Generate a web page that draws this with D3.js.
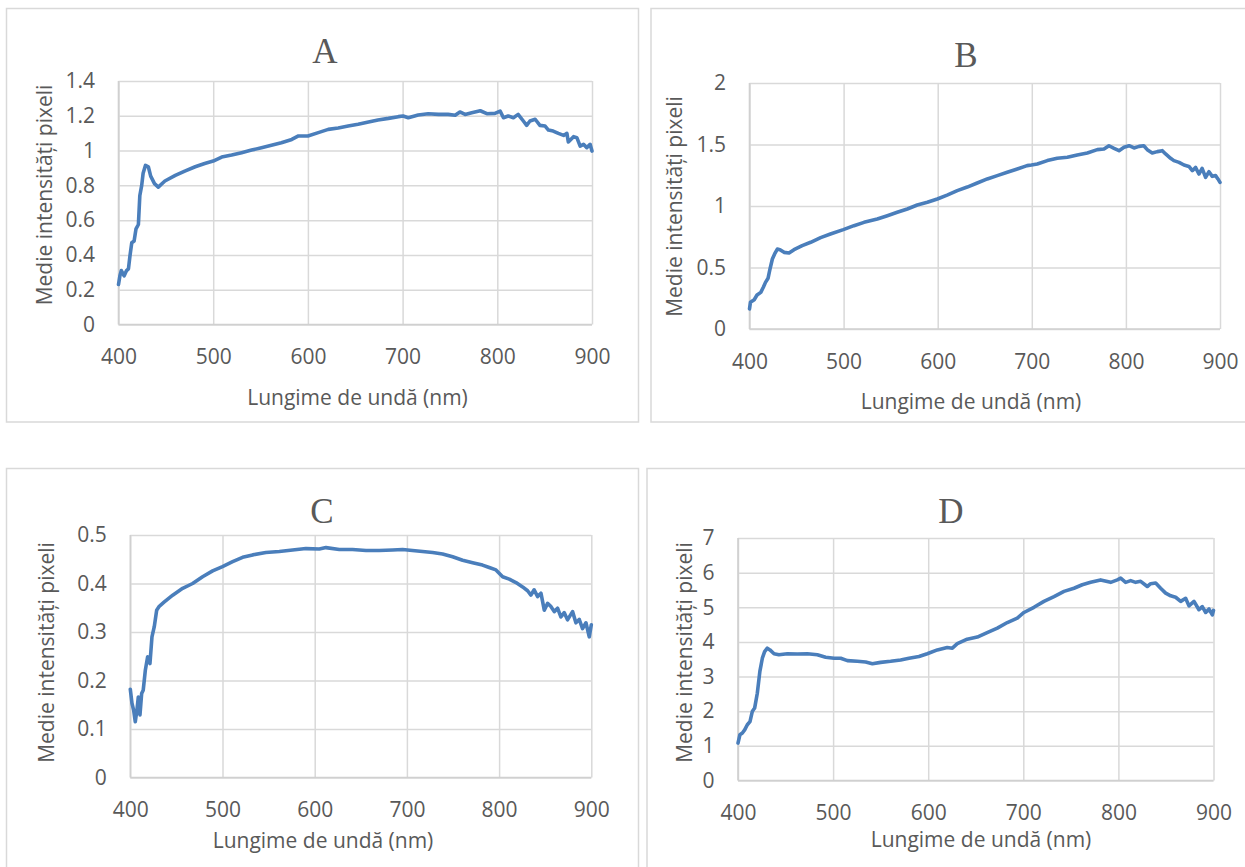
<!DOCTYPE html>
<html>
<head>
<meta charset="utf-8">
<script src="https://cdn.jsdelivr.net/npm/d3@7"></script>
<style>
  html, body { margin: 0; padding: 0; background: #ffffff; }
  svg { display: block; }
</style>
</head>
<body>
<svg id="chart" width="1245" height="867"></svg>
<script>
// ---------------- DATA ----------------
const panelTitles = ["A", "B", "C", "D"];
const xAxisTitle = "Lungime de undă (nm)";
const yAxisTitle = "Medie intensități pixeli";
const xTicks = [400, 500, 600, 700, 800, 900];
const yTicksA = [0, 0.2, 0.4, 0.6, 0.8, 1, 1.2, 1.4];
const yTicksB = [0, 0.5, 1, 1.5, 2];
const yTicksC = [0, 0.1, 0.2, 0.3, 0.4, 0.5];
const yTicksD = [0, 1, 2, 3, 4, 5, 6, 7];

// [wavelength (nm), mean pixel intensity]
const seriesA = [[400,0.23],[401.5,0.28],[403,0.31],[406,0.28],[408.5,0.31],[410.5,0.32],[412,0.39],[414,0.47],[416.5,0.48],[418.5,0.55],[421,0.575],[422.5,0.74],[424.5,0.80],[426,0.87],[428.5,0.915],[431.5,0.907],[434,0.853],[438,0.81],[442,0.79],[449,0.825],[460,0.857],[470,0.882],[481,0.907],[491,0.926],[500,0.94],[509,0.963],[519.5,0.974],[530,0.988],[540.5,1.003],[551,1.016],[561.5,1.03],[572,1.045],[583,1.064],[590,1.084],[600,1.084],[611,1.103],[621.5,1.122],[632,1.13],[642.5,1.141],[653,1.151],[664,1.164],[674,1.176],[685,1.185],[695.5,1.195],[700.5,1.199],[706,1.189],[716.5,1.204],[727,1.212],[738,1.208],[748,1.208],[755.5,1.203],[760.5,1.222],[766,1.208],[773,1.218],[782,1.229],[789,1.212],[797.5,1.214],[803,1.227],[806.5,1.189],[811.5,1.199],[817,1.189],[822,1.208],[827.5,1.17],[831,1.145],[834.5,1.17],[840,1.18],[845,1.145],[850.5,1.141],[854,1.118],[859,1.112],[864.5,1.099],[870,1.087],[873.5,1.099],[875,1.049],[880.5,1.08],[884,1.074],[887.5,1.026],[891,1.036],[894.5,1.017],[898,1.036],[900,0.997]];

const seriesB = [[400,0.163],[401,0.217],[405,0.238],[408,0.276],[412,0.298],[414.7,0.339],[417,0.379],[419.7,0.412],[421.8,0.488],[424.3,0.569],[426.7,0.61],[429.6,0.65],[432.4,0.645],[436.7,0.623],[442,0.618],[447.3,0.645],[456,0.678],[465,0.705],[475.6,0.743],[486,0.772],[499.7,0.808],[511,0.84],[521.7,0.867],[535.8,0.894],[546.5,0.921],[557,0.949],[567.7,0.976],[578.3,1.008],[589,1.03],[599.6,1.057],[610,1.089],[620.8,1.125],[631.4,1.154],[642,1.187],[652.7,1.22],[663.3,1.247],[673.9,1.274],[684.6,1.301],[695,1.328],[699.6,1.333],[705.8,1.341],[716.5,1.369],[727,1.388],[737.8,1.396],[748.3,1.415],[759,1.431],[769.6,1.458],[776.7,1.463],[782,1.49],[787.4,1.469],[792.7,1.45],[798,1.477],[803.4,1.49],[808.6,1.472],[814,1.485],[819,1.49],[822.7,1.458],[828,1.431],[833.4,1.442],[838.7,1.45],[842.2,1.423],[847.5,1.388],[851,1.369],[856.5,1.355],[861.7,1.333],[867,1.322],[870.6,1.287],[874,1.314],[877.6,1.26],[881,1.306],[884.7,1.233],[888.3,1.279],[891.8,1.241],[895.3,1.247],[897.8,1.22],[900,1.192]];

const seriesC = [[400,0.182],[401.8,0.153],[403.6,0.139],[405.4,0.115],[407.2,0.139],[408.7,0.166],[410.5,0.129],[412.3,0.173],[414,0.18],[416.3,0.221],[418.8,0.249],[421.3,0.235],[423.5,0.29],[426,0.311],[428.6,0.345],[431.4,0.353],[436.9,0.362],[446,0.376],[456.8,0.39],[467.6,0.40],[478.4,0.414],[489.3,0.426],[500,0.435],[511,0.445],[521.8,0.454],[532.7,0.459],[547,0.464],[561.6,0.466],[576,0.469],[590.5,0.472],[605,0.471],[612.2,0.474],[626.7,0.47],[641,0.47],[655.6,0.468],[670,0.468],[684.5,0.469],[695.3,0.47],[706,0.468],[717,0.466],[727.9,0.464],[738.7,0.461],[749.6,0.455],[760.4,0.448],[771.3,0.443],[782,0.438],[789.3,0.433],[796.6,0.428],[803.8,0.414],[811,0.409],[818.3,0.402],[825.5,0.393],[830.9,0.385],[834.5,0.376],[838,0.387],[841.8,0.373],[845.4,0.38],[849,0.345],[852.6,0.359],[856,0.353],[859.8,0.342],[863.4,0.349],[867,0.331],[870.6,0.34],[874.2,0.325],[879.7,0.342],[883.3,0.319],[886.9,0.326],[890.5,0.307],[894.2,0.319],[897.8,0.29],[900,0.315]];

const seriesD = [[400,1.08],[402,1.32],[404.6,1.37],[407,1.46],[409.8,1.61],[412.6,1.70],[415,1.99],[417.5,2.09],[420.3,2.52],[423,3.15],[425.6,3.53],[428,3.72],[430.8,3.82],[433.6,3.77],[437.9,3.66],[443,3.63],[451.9,3.66],[462.4,3.65],[472.9,3.66],[483.4,3.63],[492.2,3.56],[501,3.53],[508,3.53],[515,3.46],[525.5,3.44],[534.2,3.42],[541.3,3.37],[550,3.41],[560.5,3.44],[571,3.48],[579.8,3.53],[590.3,3.58],[599,3.66],[609.6,3.77],[620,3.84],[625.4,3.82],[630.6,3.95],[641,4.08],[651.6,4.14],[662,4.27],[672.7,4.40],[683.2,4.56],[693.7,4.69],[700.7,4.85],[711.2,5.00],[721.7,5.17],[732.3,5.31],[742.8,5.46],[753.3,5.55],[762,5.65],[770.8,5.72],[781.3,5.79],[791.9,5.72],[798.9,5.79],[802.4,5.84],[807.6,5.72],[812.9,5.77],[818.1,5.72],[823.4,5.75],[830.4,5.60],[833.9,5.68],[839.2,5.70],[844.4,5.55],[849.7,5.41],[855,5.33],[860.2,5.29],[865.5,5.17],[870.7,5.26],[874.2,5.04],[879.5,5.17],[884.7,4.93],[888.2,5.02],[891.8,4.85],[895.3,4.95],[898.8,4.78],[900,4.91]];

// ---------------- LAYOUT / STYLE ----------------
const FONT = "'Open Sans', sans-serif";
const TEXT_COLOR = "#595959";
const GRID_COLOR = "#d9d9d9";
const LINE_COLOR = "#4a7ebb";
const BORDER_COLOR = "#d9d9d9";

const panels = [
  { title: panelTitles[0], data: seriesA, yTicks: yTicksA,
    x0: 118.5, x1: 592, yTop: 81, yBottom: 324.5,
    border: [6.5, 8.5, 638.5, 422], titlePos: [325, 63],
    xTitlePos: [357.5, 405], yTitlePos: [52, 195] },
  { title: panelTitles[1], data: seriesB, yTicks: yTicksB,
    x0: 749.5, x1: 1220, yTop: 83, yBottom: 329,
    border: [651, 8.5, 1260, 422], titlePos: [966, 67],
    xTitlePos: [971, 409], yTitlePos: [682, 206.5] },
  { title: panelTitles[2], data: seriesC, yTicks: yTicksC,
    x0: 130.3, x1: 591.3, yTop: 535, yBottom: 777.5,
    border: [6.5, 468.5, 638.5, 880], titlePos: [322, 523],
    xTitlePos: [323, 848], yTitlePos: [54, 652.5] },
  { title: panelTitles[3], data: seriesD, yTicks: yTicksD,
    x0: 738, x1: 1213.5, yTop: 538, yBottom: 780.5,
    border: [647, 468.5, 1260, 880], titlePos: [951, 523],
    xTitlePos: [981, 847], yTitlePos: [692, 652.5] }
];

const svg = d3.select("#chart");
svg.append("rect").attr("width", 1245).attr("height", 867).attr("fill", "#ffffff");

panels.forEach(p => {
  const g = svg.append("g");

  // panel border
  g.append("rect")
    .attr("x", p.border[0]).attr("y", p.border[1])
    .attr("width", p.border[2] - p.border[0]).attr("height", p.border[3] - p.border[1])
    .attr("fill", "none").attr("stroke", BORDER_COLOR).attr("stroke-width", 1.5);

  const x = d3.scaleLinear().domain([400, 900]).range([p.x0, p.x1]);
  const yMax = p.yTicks[p.yTicks.length - 1];
  const y = d3.scaleLinear().domain([0, yMax]).range([p.yBottom, p.yTop]);

  // horizontal gridlines
  const gy = g.append("g").attr("transform", `translate(${p.x0},0)`)
    .call(d3.axisLeft(y).tickValues(p.yTicks).tickSize(-(p.x1 - p.x0)).tickFormat(""));
  gy.select(".domain").remove();
  gy.selectAll(".tick line").attr("stroke", GRID_COLOR).attr("stroke-width", 1.5);

  // vertical gridlines
  const gx = g.append("g").attr("transform", `translate(0,${p.yBottom})`)
    .call(d3.axisBottom(x).tickValues(xTicks).tickSize(-(p.yBottom - p.yTop)).tickFormat(""));
  gx.select(".domain").remove();
  gx.selectAll(".tick line").attr("stroke", GRID_COLOR).attr("stroke-width", 1.5);

  // axis lines
  g.append("line").attr("x1", p.x0).attr("x2", p.x1).attr("y1", p.yBottom).attr("y2", p.yBottom)
    .attr("stroke", "#d0d0d0").attr("stroke-width", 1.6);
  g.append("line").attr("x1", p.x0).attr("x2", p.x0).attr("y1", p.yTop).attr("y2", p.yBottom)
    .attr("stroke", "#d0d0d0").attr("stroke-width", 1.6);

  // tick labels
  const ax = g.append("g").attr("transform", `translate(0,${p.yBottom})`)
    .call(d3.axisBottom(x).tickValues(xTicks).tickSize(0).tickPadding(25).tickFormat(d => String(d)));
  ax.select(".domain").remove();
  ax.selectAll("text").attr("font-family", FONT).attr("font-size", 21).attr("fill", TEXT_COLOR);

  const ay = g.append("g").attr("transform", `translate(${p.x0},0)`)
    .call(d3.axisLeft(y).tickValues(p.yTicks).tickSize(0).tickPadding(23.5).tickFormat(d => String(d)));
  ay.select(".domain").remove();
  ay.selectAll("text").attr("font-family", FONT).attr("font-size", 21).attr("fill", TEXT_COLOR);

  // series line
  const line = d3.line().x(d => x(d[0])).y(d => y(d[1]));
  g.append("path").datum(p.data)
    .attr("d", line)
    .attr("fill", "none")
    .attr("stroke", LINE_COLOR)
    .attr("stroke-width", 3.6)
    .attr("stroke-linejoin", "round")
    .attr("stroke-linecap", "round");

  // chart title
  g.append("text")
    .attr("x", p.titlePos[0]).attr("y", p.titlePos[1])
    .attr("text-anchor", "middle")
    .attr("font-family", "'Liberation Serif', 'Times New Roman', serif")
    .attr("font-size", 35)
    .attr("fill", TEXT_COLOR)
    .text(p.title);

  // x-axis title
  g.append("text")
    .attr("x", p.xTitlePos[0]).attr("y", p.xTitlePos[1])
    .attr("text-anchor", "middle")
    .attr("font-family", FONT).attr("font-size", 21).attr("fill", TEXT_COLOR)
    .text(xAxisTitle);

  // y-axis title
  g.append("text")
    .attr("transform", `translate(${p.yTitlePos[0]},${p.yTitlePos[1]}) rotate(-90)`)
    .attr("text-anchor", "middle")
    .attr("font-family", FONT).attr("font-size", 21).attr("fill", TEXT_COLOR)
    .text(yAxisTitle);
});
</script>
</body>
</html>
